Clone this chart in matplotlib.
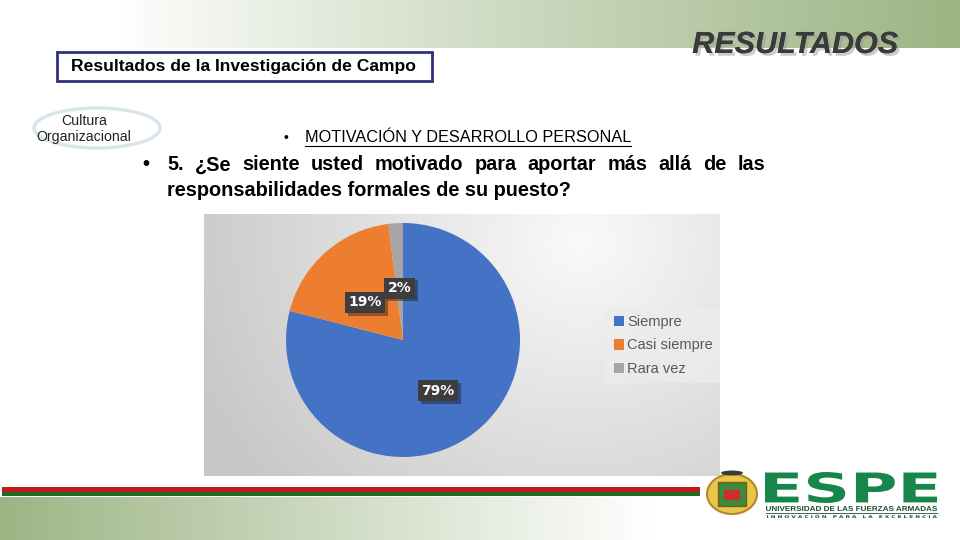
import numpy as np
import matplotlib
matplotlib.use("Agg")
import matplotlib.pyplot as plt
import matplotlib.patheffects as pe
from matplotlib.patches import Rectangle, Ellipse, PathPatch, Patch
from matplotlib.textpath import TextPath
from matplotlib.font_manager import FontProperties
from matplotlib.transforms import Affine2D

plt.rcParams['font.family'] = ['Liberation Sans', 'DejaVu Sans']

# data
labels = ["Siempre", "Casi siempre", "Rara vez"]
values = [79, 19, 2]
colors = ["#4472c4", "#ed7d31", "#a5a5a5"]

header = "Resultados de la Investigación de Campo"
bubble = "Cultura\nOrganizacional"
topic = "MOTIVACIÓN Y DESARROLLO PERSONAL"
question_1 = "5. ¿Se siente usted motivado para aportar más allá de las"
question_2 = "responsabilidades formales de su puesto?"

fig = plt.figure(figsize=(9.6, 5.4), dpi=100)
bg = fig.add_axes([0, 0, 1, 1])
bg.set_xlim(0, 960)
bg.set_ylim(540, 0)
bg.axis("off")

white = np.array([1.0, 1.0, 1.0])
green = np.array([0x9c, 0xb5, 0x84]) / 255

# top band, white -> green
t = np.clip((np.linspace(0, 960, 480) - 120) / 840, 0, 1)[None, :, None]
bg.imshow(white + (green - white) * t ** 0.9, extent=[0, 960, 48, 0], aspect="auto", zorder=0)

# bottom band, green -> white
t = np.clip(1 - np.linspace(0, 960, 480) / 650, 0, 1)[None, :, None]
bg.imshow(white + (green - white) * t, extent=[0, 960, 540, 497], aspect="auto", zorder=0)

bg.add_patch(Rectangle((2, 487), 698, 5, color="#c3181c", lw=0, zorder=1))
bg.add_patch(Rectangle((2, 492), 698, 4, color="#1f6a22", lw=0, zorder=1))

# chart picture background
yy, xx = np.mgrid[214:476:2, 204:720:2]
d = np.hypot((xx - 580) / 1.0, (yy - 240) / 0.9) / 420
d = np.clip(d, 0, 1)[:, :, None]
light = np.array([0.98, 0.98, 0.98])
dark = np.array([0.78, 0.78, 0.78])
bg.imshow(light + (dark - light) * d, extent=[204, 720, 476, 214], aspect="auto", zorder=1)

# title
bg.text(795, 45, "RESULTADOS", ha="center", va="center", fontsize=22, fontweight="bold",
        fontstyle="italic", color="#3a3a3a", zorder=3,
        path_effects=[pe.withSimplePatchShadow(offset=(2, -2), shadow_rgbFace="#9a9a9a", alpha=0.5),
                      pe.Normal()])

bg.add_patch(Rectangle((57, 52), 375, 29, fc="white", ec="#2f327a", lw=2, zorder=2))
bg.text(243, 67, header, ha="center", va="center", fontsize=12.6, fontweight="bold",
        color="black", zorder=3)

bg.add_patch(Ellipse((97, 128), 126, 40, fc="white", ec="#d9e7ec", lw=2.5, zorder=2))
bg.text(84, 129, bubble, ha="center", va="center", fontsize=10.2, color="#222222",
        linespacing=1.2, zorder=3)

bg.text(284, 138, "•", ha="left", va="center", fontsize=10, zorder=3)
tp = bg.text(305, 138, topic, ha="left", va="center", fontsize=11.7, zorder=3)

qkw = dict(fontsize=14.3, fontweight="bold", va="center", ha="left", color="black", zorder=3)
bg.text(142, 165, "•", **qkw)
words = question_1.split()
wtexts = [bg.text(0, 165, w, **qkw) for w in words]
bg.text(167, 190, question_2, **qkw)

# pie
pax = fig.add_axes([286 / 960, (540 - 457) / 540, 234 / 960, 234 / 540])
pax.set_facecolor("none")
wedges, _, autotexts = pax.pie(values, colors=colors, startangle=90, counterclock=False,
                               autopct="%d%%", pctdistance=0.49,
                               wedgeprops=dict(linewidth=0))
for at in autotexts:
    at.set_color("white")
    at.set_fontweight("bold")
    at.set_fontsize(10)
    at.set_fontfamily("DejaVu Sans")
    x0, y0 = at.get_position()
    at.set_position((x0, y0 - 0.045))
    at.set_bbox(dict(boxstyle="square,pad=0.25", fc="#3d3d3d", ec="none",
                     path_effects=[pe.withSimplePatchShadow(offset=(2, -2), alpha=0.4)]))
pax.set_xlim(-1, 1)
pax.set_ylim(-1, 1)
pax.set_aspect("equal")

handles = [Patch(fc=c, ec="none") for c in colors]
leg = pax.legend(handles, labels, loc="center left", bbox_to_anchor=(599 / 960, (540 - 345.5) / 540),
                 bbox_transform=fig.transFigure, frameon=True, fancybox=False, fontsize=10.5,
                 handlelength=0.7, handleheight=0.7, handletextpad=0.25, labelspacing=0.65,
                 borderpad=0.5, labelcolor="#595959")
leg.get_frame().set_facecolor("#ececec")
leg.get_frame().set_edgecolor("none")
leg.get_frame().set_alpha(0.8)

# logo
def fit_text(s, x0, y0, x1, y1, color, weight="bold", family="DejaVu Sans"):
    path = TextPath((0, 0), s, size=10, prop=FontProperties(family=family, weight=weight))
    ext = path.get_extents()
    sx = (x1 - x0) / ext.width
    sy = (y1 - y0) / ext.height
    tr = Affine2D().translate(-ext.x0, -ext.y0).scale(sx, -sy).translate(x0, y1)
    bg.add_patch(PathPatch(tr.transform_path(path), fc=color, ec="none", zorder=4))

fit_text("ESPE", 765, 472, 937, 503, "#17864a")
fit_text("UNIVERSIDAD DE LAS FUERZAS ARMADAS", 766, 506, 937, 511, "#1b4d2e", family="Liberation Sans")
bg.plot([766, 937], [512.5, 512.5], color="#1b4d2e", lw=0.6, zorder=4)
fit_text("I N N O V A C I Ó N   P A R A   L A   E X C E L E N C I A", 767, 514.5, 937, 518,
         "#1b4d2e", family="DejaVu Sans")

bg.add_patch(Ellipse((732, 494), 50, 40, fc="#e8c64a", ec="#b08a28", lw=1.5, zorder=3))
bg.add_patch(Rectangle((718, 482), 28, 24, fc="#3f8a3a", ec="#7a5a1a", lw=1, zorder=4))
bg.add_patch(Rectangle((724, 490), 16, 10, fc="#c9302c", ec="none", zorder=5))
bg.add_patch(Ellipse((732, 473), 22, 5, fc="#3a3a3a", ec="none", zorder=4))

# justify the first line of the question
fig.canvas.draw()
r = fig.canvas.get_renderer()
widths = [w.get_window_extent(r).width for w in wtexts]
gap = (765 - 167 - sum(widths)) / (len(words) - 1)
x = 167
for w, wd in zip(wtexts, widths):
    w.set_x(x)
    x += wd + gap

bb = tp.get_window_extent(r)
bg.plot([305, 305 + bb.width], [146, 146], color="black", lw=0.8, zorder=3)

fig.savefig("out.png", dpi=100)
